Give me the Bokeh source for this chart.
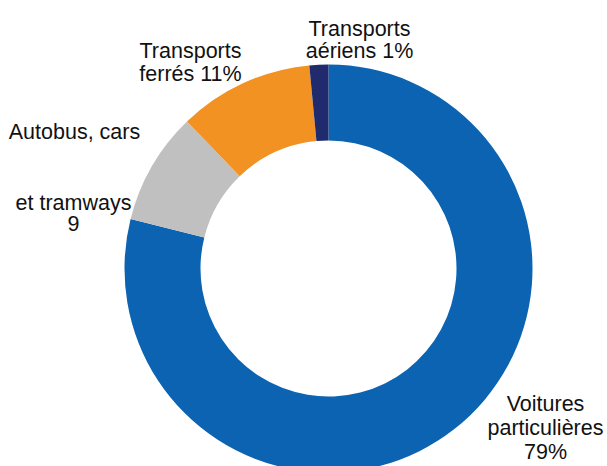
from bokeh.plotting import figure
from bokeh.models import ColumnDataSource, Range1d
from bokeh.core.properties import value
from bokeh.embed import file_html
from bokeh.resources import INLINE
import math

# Data
categories = ["Voitures particulières", "Autobus, cars et tramways", "Transports ferrés", "Transports aériens"]
shares = [78.9, 8.9, 10.7, 1.5]
colors = ["#0B63B1", "#C0C0C0", "#F29222", "#1F2B6C"]
labels = ["Voitures\nparticulières\n79%", "Autobus, cars\n\net tramways\n9", "Transports\nferrés 11%", "Transports\naériens 1%"]

W, H = 607, 466
p = figure(width=W, height=H, output_backend="svg", toolbar_location=None,
           x_range=Range1d(0, W), y_range=Range1d(0, H), min_border=0,
           outline_line_color=None)
p.axis.visible = False
p.grid.visible = False
p.background_fill_color = "white"
p.border_fill_color = "white"

cx, cy = 328, H - 268
r_out, r_in = 204, 128

total = sum(shares)
starts, ends = [], []
a = math.pi / 2
for s in shares:
    e = a - s / total * 2 * math.pi
    starts.append(a)
    ends.append(e)
    a = e

src = ColumnDataSource(dict(start=starts, end=ends, color=colors, cat=categories))
p.annular_wedge(x=cx, y=cy, inner_radius=r_in, outer_radius=r_out,
                start_angle="start", end_angle="end", direction="clock",
                fill_color="color", line_color=None, source=src)

# label layout: (x center, first line y in pixels, line spacing)
layout = [
    (545, 403, 24, "center"),
    (None, None, None, None),
    (190, 50, 23, "center"),
    (359, 28, 22, "center"),
]
tx, ty, tt, ta = [], [], [], []
for (x0, y0, dy, al), lab in zip(layout, labels):
    if x0 is None:
        continue
    for i, line in enumerate(lab.split("\n")):
        tx.append(x0)
        ty.append(H - (y0 + i * dy))
        tt.append(line)
        ta.append(al)
# Autobus label placed specially
auto_lines = labels[1].split("\n")
auto_pos = [(74, 131), None, (73, 202), (73, 223)]
for line, pos in zip(auto_lines, auto_pos):
    if pos is None or not line:
        continue
    tx.append(pos[0]); ty.append(H - pos[1]); tt.append(line); ta.append("center")

p.text(x=tx, y=ty, text=tt, text_align="center", text_baseline="middle",
       text_font=value("Liberation Sans"), text_font_size="21.5px", text_color="#111111")

open("out.html", "w").write(file_html(p, INLINE))
